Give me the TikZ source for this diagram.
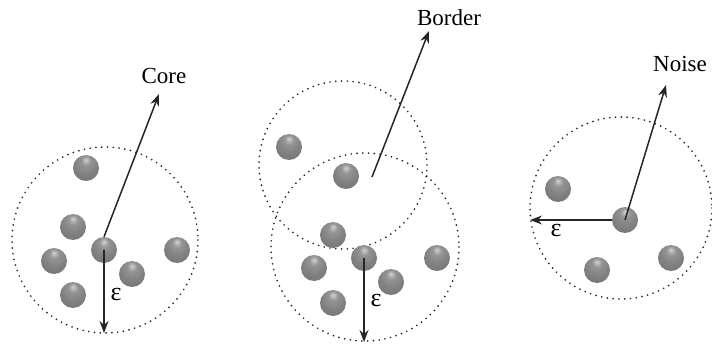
\documentclass[tikz,border=0pt]{standalone}
\usepackage{fontspec}
\setmainfont{Liberation Serif}
\usetikzlibrary{arrows.meta}
\pgfdeclareradialshading{sphereshade}{\pgfqpoint{0bp}{16bp}}{%
  color(0bp)=(black!18); color(9bp)=(black!42); color(24bp)=(black!50);
  color(42bp)=(black!56); color(50bp)=(black!66); color(70bp)=(black!66)}
\begin{document}
\begin{tikzpicture}[x=1pt,y=-1pt,
  ball/.style={circle,minimum size=26pt,inner sep=0pt,shading=sphereshade},
  region/.style={draw=black!85,line width=1.9pt,dash pattern=on 0pt off 5.8pt,line cap=round},
  ptr/.style={draw=black!85,line width=1.5pt,-{Stealth[length=12pt,width=9pt]}},
  lbl/.style={font=\fontsize{23}{27}\selectfont,inner sep=0pt,anchor=base},
  eps/.style={font=\fontsize{26}{30}\selectfont,inner sep=0pt}]
\useasboundingbox (0,0) rectangle (712,345);
% regions
\draw[region] (105,240) circle[radius=93];
\draw[region] (343,165) circle[radius=84];
\draw[region] (365,247) circle[radius=94];
\draw[region] (621,208) circle[radius=91];
% left: core
\node[ball] (c1) at (86,168) {};
\node[ball] (c2) at (73,227) {};
\node[ball] (c0) at (104,250) {};
\node[ball] (c3) at (54,261) {};
\node[ball] (c4) at (132,274) {};
\node[ball] (c5) at (73,295) {};
\node[ball] (c6) at (177,250) {};
% middle: border
\node[ball] (m1) at (289,147) {};
\node[ball] (m2) at (346,176) {};
\node[ball] (m3) at (333,235) {};
\node[ball] (m0) at (364,258) {};
\node[ball] (m4) at (314,268) {};
\node[ball] (m5) at (391,282) {};
\node[ball] (m6) at (333,303) {};
\node[ball] (m7) at (437,258) {};
% right: noise
\node[ball] (n1) at (558,189) {};
\node[ball] (n0) at (625,220) {};
\node[ball] (n2) at (597,270) {};
\node[ball] (n3) at (671,258) {};
% labels
\node[lbl] (core) at (164,84) {Core};
\node[lbl] (border) at (449,26) {Border};
\node[lbl] (noise) at (680,72) {Noise};
\node[eps] (e1) at (116,294) {ε};
\node[eps] (e2) at (376,300) {ε};
\node[eps] (e3) at (556,230) {ε};
% arrow ends
\coordinate (coreTip) at (159,94);
\coordinate (borderTip) at (429,31);
\coordinate (noiseTip) at (666,85);
\coordinate (borderFrom) at (372,177);
\coordinate (eTip1) at (104,333);
\coordinate (eTip2) at (364,342);
\coordinate (eTip3) at (530,220);
% arrows
\draw[ptr] (c0.north) -- (coreTip);
\draw[ptr] (c0.center) -- (eTip1);
\draw[ptr] (borderFrom) -- (borderTip);
\draw[ptr] (m0.center) -- (eTip2);
\draw[ptr] (n0.center) -- (noiseTip);
\draw[ptr] (n0.west) -- (eTip3);
\end{tikzpicture}
\end{document}
